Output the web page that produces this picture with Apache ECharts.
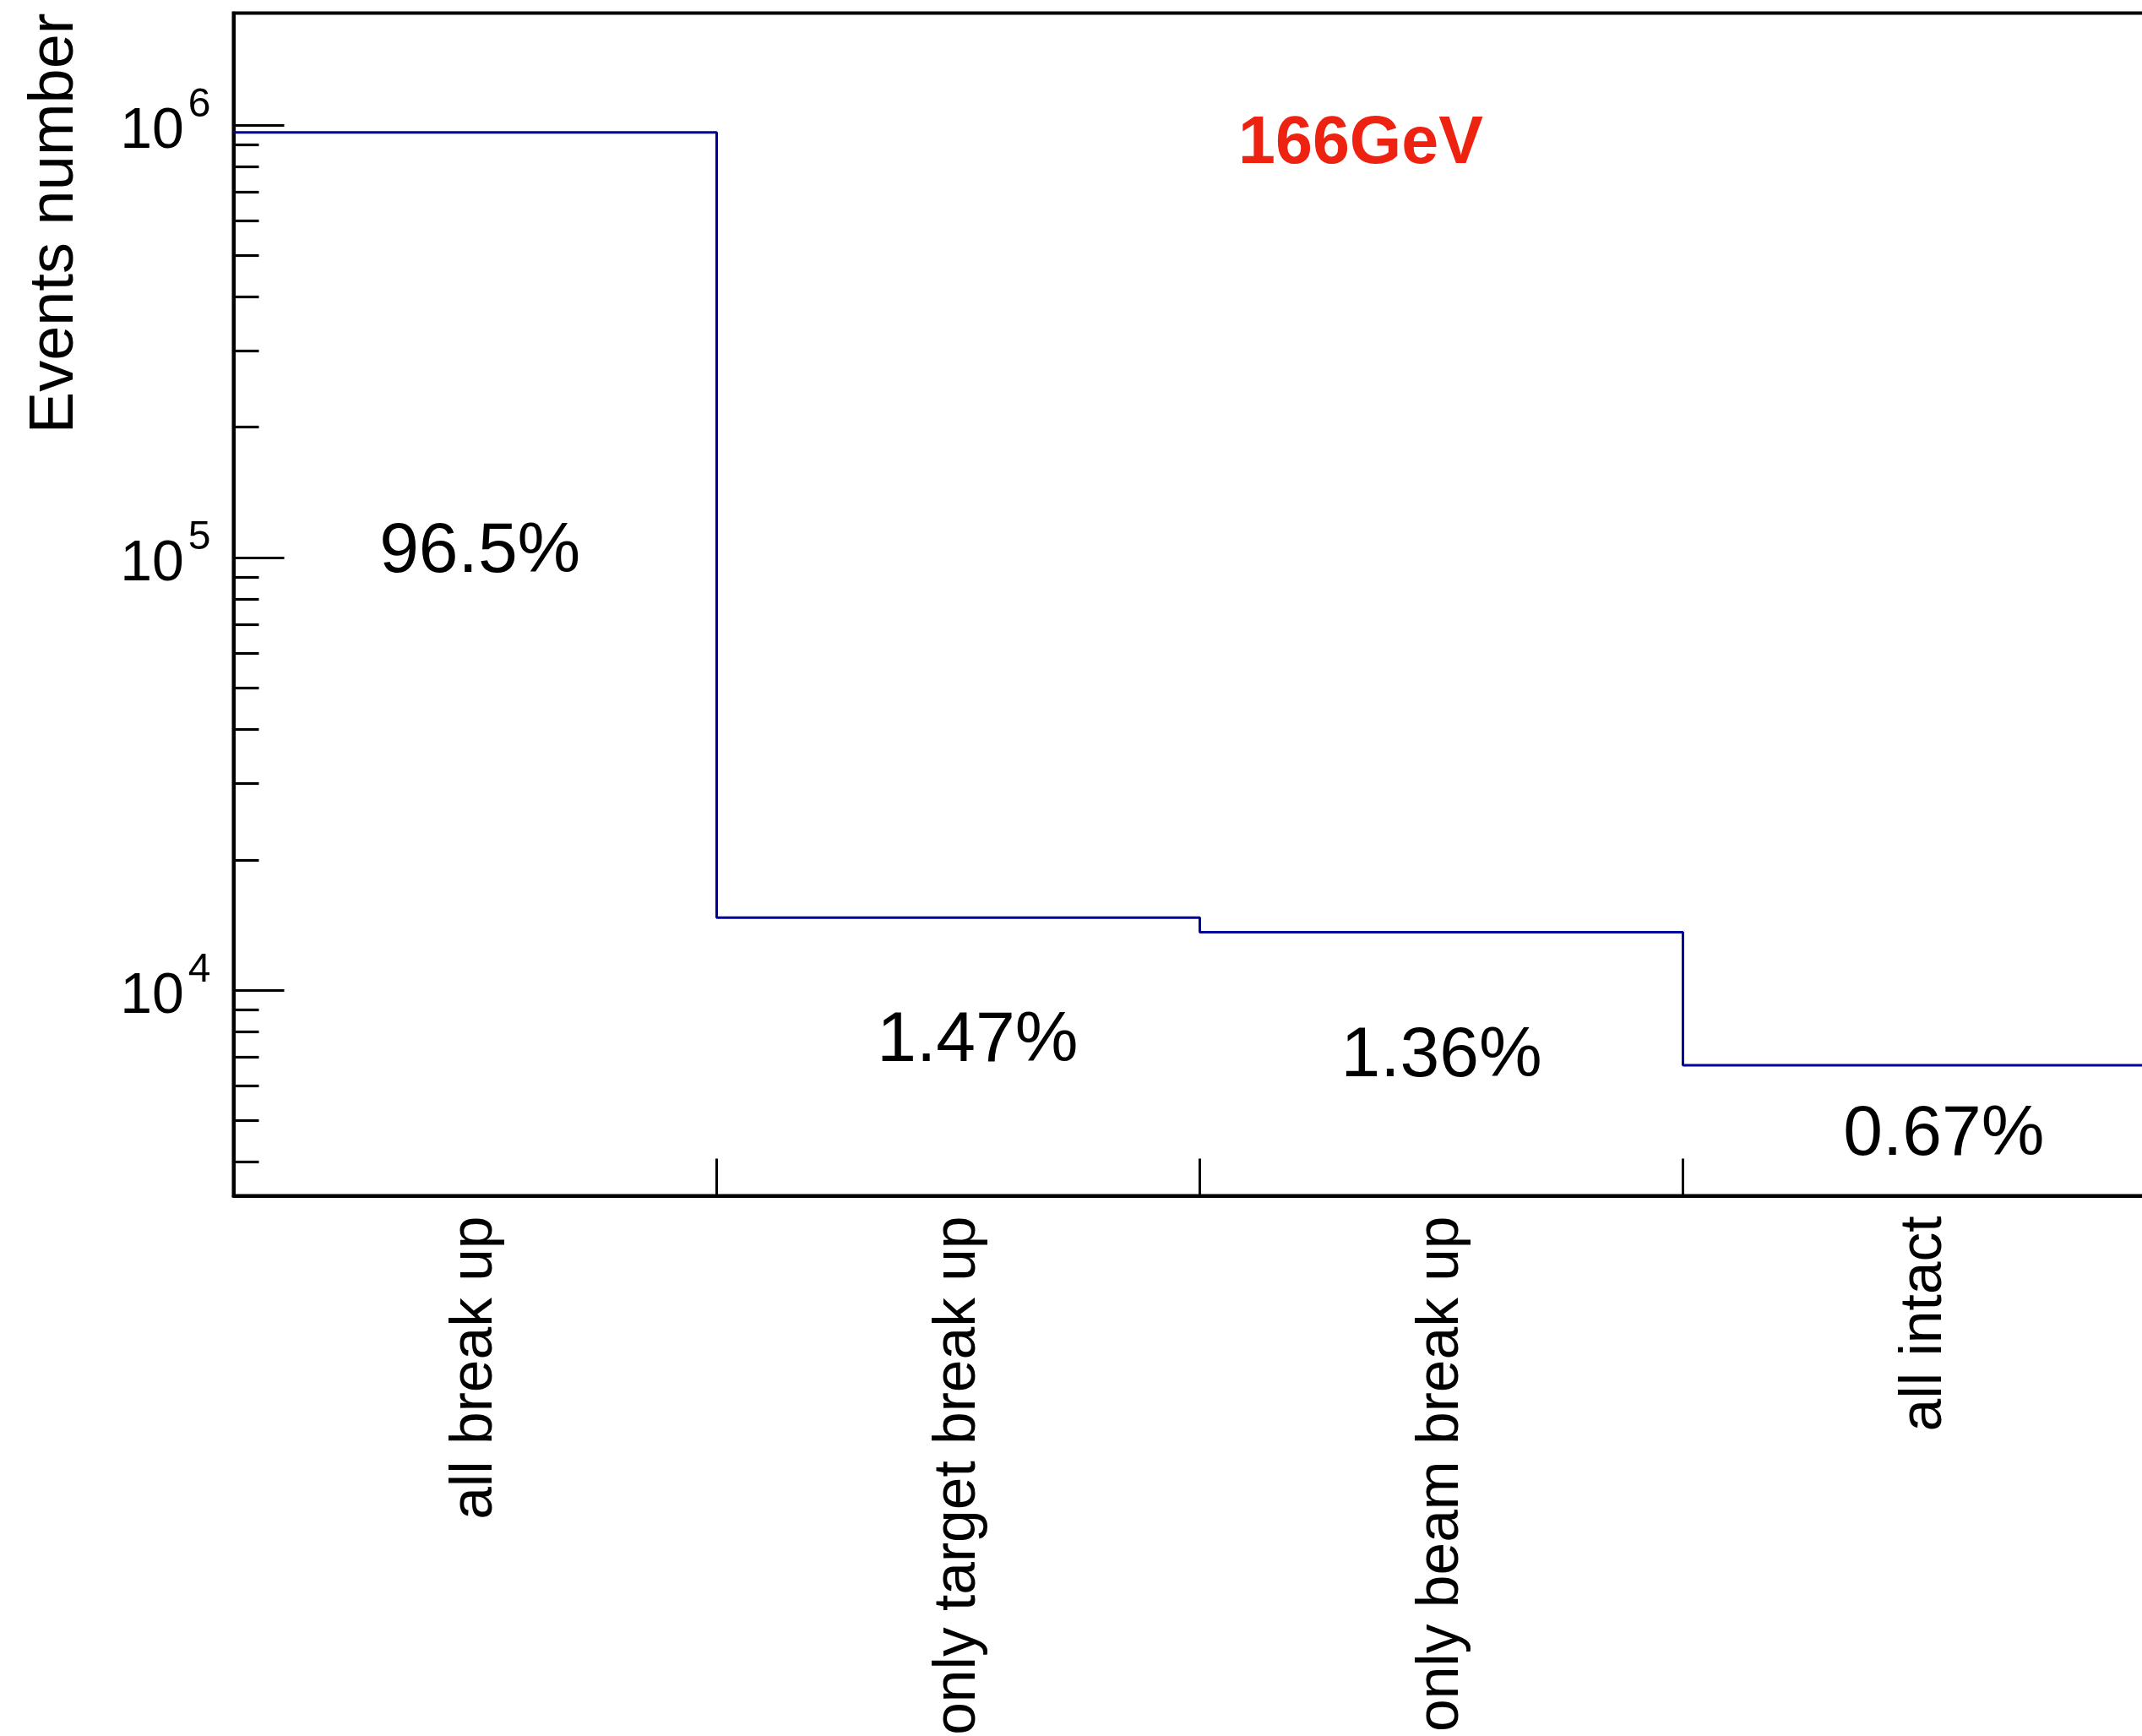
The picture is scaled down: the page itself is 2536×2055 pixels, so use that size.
<!DOCTYPE html>
<html>
<head>
<meta charset="utf-8">
<script src="https://cdn.jsdelivr.net/npm/echarts@6/dist/echarts.min.js"></script>
<style>
  html, body { margin: 0; padding: 0; background: #fff; }
  #chart { width: 2536px; height: 2055px; }
</style>
</head>
<body>
<div id="chart"></div>
<script>
// Event categories, one histogram bin each
const categories = ['all break up', 'only target break up', 'only beam break up', 'all intact'];
// Number of events in each category
const eventCounts = [961000, 14700, 13600, 6700];
// Share of all events, printed inside each bin
const fractionLabels = ['96.5%', '1.47%', '1.36%', '0.67%'];
// Labelled decades on the event axis
const majorTicks = [1e4, 1e5, 1e6];
const energyLabel = '166GeV';
const yTitle = 'Events number';

// ---- layout ----
const FONT = "'Liberation Sans', Arial, Helvetica, sans-serif";
const Y_MIN = 3344, Y_MAX = 1813000;
// anchor of each share label, in (bin, events) space
const labelAnchors = [[0.51, 102600], [1.54, 7590], [2.5, 7000], [3.54, 4610]];

// minor ticks at 2..9 of every decade inside the axis range
const minorTicks = [];
for (let e = 3; e <= 6; e++) {
  for (let m = 2; m <= 9; m++) {
    const v = m * Math.pow(10, e);
    if (v > Y_MIN && v < Y_MAX) minorTicks.push(v);
  }
}

// histogram outline: one point per bin edge, last bin closed at the right edge
const outline = eventCounts.map((v, i) => [i, v])
  .concat([[eventCounts.length, eventCounts[eventCounts.length - 1]]]);

const chart = echarts.init(document.getElementById('chart'), null, { renderer: 'canvas' });

chart.setOption({
  animation: false,
  backgroundColor: '#fff',
  grid: {
    left: 276.5, top: 15.5, width: 2288, height: 1400,
    outerBoundsMode: 'none', containLabel: false,
    show: true, borderColor: '#000', borderWidth: 4, backgroundColor: 'transparent'
  },
  xAxis: [
    {
      type: 'category',
      data: categories,
      position: 'bottom',
      boundaryGap: true,
      axisLine: { lineStyle: { color: '#000', width: 4 } },
      axisTick: { show: true, inside: true, length: 44, interval: 0, alignWithLabel: false,
                  lineStyle: { color: '#000', width: 3 } },
      axisLabel: { interval: 0, rotate: 90, margin: 24, fontSize: 69.5, fontFamily: FONT, color: '#000',
                   hideOverlap: false },
      splitLine: { show: false }
    },
    {
      type: 'value', min: 0, max: categories.length, show: false
    }
  ],
  yAxis: [
    {
      type: 'log', logBase: 10, min: Y_MIN, max: Y_MAX,
      axisLine: { show: true, lineStyle: { color: '#000', width: 4 } },
      axisTick: { show: true, inside: true, length: 60, customValues: majorTicks,
                  lineStyle: { color: '#000', width: 3.2 } },
      axisLabel: {
        customValues: majorTicks,
        margin: 27,
        padding: [16, 0, 0, 0],
        formatter: v => '{b|10}{g| }{s|' + Math.round(Math.log10(v)) + '}',
        rich: {
          b: { fontSize: 68, lineHeight: 110, fontFamily: FONT, color: '#000', verticalAlign: 'middle' },
          g: { fontSize: 18, lineHeight: 18, fontFamily: FONT, verticalAlign: 'top' },
          s: { fontSize: 48, lineHeight: 48, fontFamily: FONT, color: '#000', verticalAlign: 'top' }
        }
      },
      splitLine: { show: false },
      minorTick: { show: false }
    },
    {
      type: 'log', logBase: 10, min: Y_MIN, max: Y_MAX, position: 'left', offset: 0,
      axisLine: { show: false },
      axisTick: { show: true, inside: true, length: 30, customValues: minorTicks,
                  lineStyle: { color: '#000', width: 3.2 } },
      axisLabel: { show: false },
      splitLine: { show: false }
    }
  ],
  series: [
    {
      type: 'line',
      xAxisIndex: 1, yAxisIndex: 0,
      data: outline,
      step: 'end',
      symbol: 'none',
      silent: true,
      lineStyle: { color: '#00009a', width: 3 }
    },
    {
      type: 'scatter',
      xAxisIndex: 1, yAxisIndex: 0,
      symbolSize: 1,
      itemStyle: { color: 'rgba(0,0,0,0)' },
      silent: true,
      data: labelAnchors.map((p, i) => ({ value: p, name: fractionLabels[i] })),
      label: {
        show: true, position: 'inside', formatter: '{b}',
        fontSize: 84, fontFamily: FONT, color: '#000',
        textBorderWidth: 0, textBorderColor: 'transparent', opacity: 1
      }
    }
  ],
  graphic: [
    {
      type: 'text', x: 1611, y: 171,
      style: { text: energyLabel, font: 'bold 79px ' + FONT, fill: '#ee2211',
               align: 'center', verticalAlign: 'middle' }
    },
    {
      type: 'text', x: 66, y: 15.5, rotation: Math.PI / 2,
      style: { text: yTitle, font: '74px ' + FONT, fill: '#000',
               align: 'right', verticalAlign: 'middle' }
    }
  ]
});
</script>
</body>
</html>
